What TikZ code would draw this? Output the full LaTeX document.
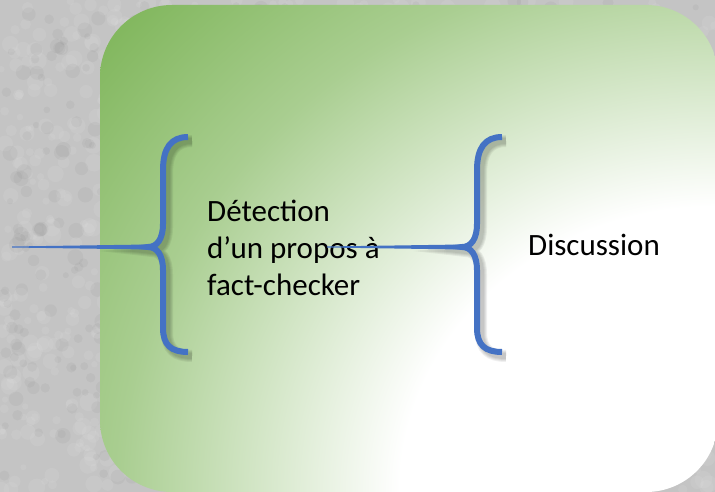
\documentclass[tikz,border=0pt]{standalone}
\usepackage{fontspec}
\setmainfont{Carlito}
\usetikzlibrary{calc}

\definecolor{stone}{RGB}{196,196,196}
\definecolor{leaf}{RGB}{112,173,71}
\definecolor{ink}{RGB}{68,114,196}
\pgfdeclareradialshading{fade}{\pgfpoint{0bp}{0bp}}{color(0bp)=(white); color(18bp)=(white); color(34bp)=(leaf!60!white); color(50bp)=(leaf)}

\def\curly{(188,137) .. controls (171,137) and (163,148) .. (163,170) -- (163,224)
  .. controls (163,239) and (157,247) .. (148,247)
  .. controls (157,247) and (163,255) .. (163,270) -- (163,328)
  .. controls (163,345) and (171,352) .. (188,352)}

\begin{document}
\begin{tikzpicture}[x=1pt,y=-1pt,
  brace/.style={draw=ink,line width=6pt},
  bshadow/.style={draw=black,opacity=0.06},
  txt/.style={font=\fontsize{31}{37}\selectfont,inner sep=0pt,align=left,anchor=base west}]

    \useasboundingbox (0,0) rectangle (715,492);
    \fill[stone] (0,0) rectangle (715,492);
    \pgfmathsetseed{11}
    \foreach \i in {1,...,1400}{
      \pgfmathsetmacro\px{rnd*715}
      \pgfmathsetmacro\py{rnd*492}
      \pgfmathsetmacro\r{3+rnd*6}
      \fill[white,opacity=0.07] (\px,\py) circle (\r);
    }
    \foreach \i in {1,...,600}{
      \pgfmathsetmacro\px{rnd*715}
      \pgfmathsetmacro\py{rnd*492}
      \pgfmathsetmacro\r{3+rnd*5}
      \fill[black,opacity=0.03] (\px,\py) circle (\r);
    }

    \begin{scope}
      \clip[rounded corners=72pt] (100,5) rectangle (718,492);
      \pgftransformshift{\pgfpointxy{716}{492}}
      \pgftransformxscale{17.5}
      \pgftransformyscale{15.8}
      \pgflowlevelsynccm
      \pgfuseshading{fade}
    \end{scope}

    \coordinate (L1) at (12,247);
    \coordinate (L2) at (327,247);

    \foreach \dx/\n in {0/1,314/2}{
      \begin{scope}[xshift=\dx]
        \coordinate (T\n) at (148,247);
        \foreach \w in {12,10,8,6}
          \draw[bshadow,line width=\w pt,xshift=4,yshift=-4] \curly;
        \draw[brace] \curly;
      \end{scope}
    }

    \node[txt] (D) at (207,295) {Détection\\d’un propos à\\fact-checker};
    \node[txt] (S) at (528,255) {Discussion};

    \fill[ink] ($(L1)+(0,-0.5)$) -- ($(T1)+(0,-2.5)$) -- ($(T1)+(0,2.5)$) -- ($(L1)+(0,0.5)$) -- cycle;
    \fill[ink] ($(L2)+(0,-0.5)$) -- ($(T2)+(0,-2.5)$) -- ($(T2)+(0,2.5)$) -- ($(L2)+(0,0.5)$) -- cycle;
\end{tikzpicture}
\end{document}
